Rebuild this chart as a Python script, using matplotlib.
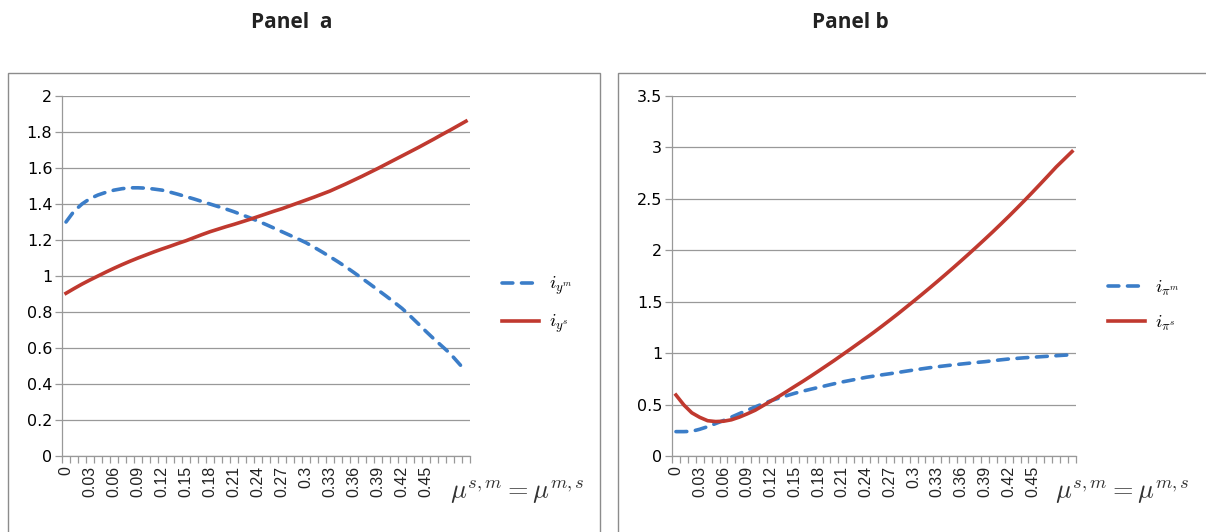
#!/usr/bin/env python3
import numpy as np
import matplotlib.pyplot as plt
from matplotlib.patches import Rectangle
plt.switch_backend('agg')
plt.rcParams['mathtext.fontset'] = 'cm'

# category axis: mu^{s,m} = mu^{m,s} from 0 to 0.50
mu = [round(0.01 * k, 2) for k in range(51)]

# Panel a
iy_m = [1.30, 1.36, 1.40, 1.43, 1.45, 1.465, 1.477, 1.485, 1.49, 1.49,
        1.488, 1.483, 1.477, 1.466, 1.454, 1.441, 1.428, 1.414, 1.400, 1.386,
        1.372, 1.357, 1.340, 1.323, 1.305, 1.286, 1.266, 1.246, 1.226, 1.206,
        1.185, 1.160, 1.134, 1.107, 1.079, 1.050, 1.019, 0.987, 0.955, 0.922,
        0.889, 0.855, 0.820, 0.779, 0.736, 0.692, 0.650, 0.610, 0.570, 0.52,
        0.47]
iy_s = [0.904, 0.93, 0.955, 0.978, 1.0, 1.022, 1.043, 1.063, 1.082, 1.10,
        1.117, 1.134, 1.15, 1.165, 1.181, 1.196, 1.213, 1.23, 1.246, 1.26,
        1.274, 1.287, 1.301, 1.315, 1.33, 1.345, 1.36, 1.374, 1.39, 1.406,
        1.422, 1.438, 1.455, 1.472, 1.492, 1.512, 1.533, 1.554, 1.576, 1.598,
        1.621, 1.644, 1.667, 1.69, 1.713, 1.737, 1.761, 1.786, 1.81, 1.835,
        1.86]

# Panel b
ipi_m = [0.237, 0.237, 0.24, 0.26, 0.285, 0.315, 0.345, 0.378, 0.412, 0.445,
         0.477, 0.508, 0.538, 0.563, 0.587, 0.61, 0.63, 0.649, 0.667, 0.685,
         0.703, 0.72, 0.735, 0.75, 0.765, 0.777, 0.789, 0.80, 0.812, 0.824,
         0.836, 0.847, 0.858, 0.868, 0.877, 0.886, 0.894, 0.902, 0.91, 0.917,
         0.926, 0.935, 0.943, 0.949, 0.955, 0.96, 0.965, 0.97, 0.975, 0.98,
         0.985]
ipi_s = [0.593, 0.496, 0.42, 0.376, 0.343, 0.335, 0.338, 0.352, 0.378, 0.41,
         0.445, 0.49, 0.535, 0.58, 0.628, 0.677, 0.725, 0.775, 0.826, 0.878,
         0.93, 0.984, 1.038, 1.093, 1.148, 1.204, 1.262, 1.321, 1.381, 1.443,
         1.505, 1.568, 1.632, 1.697, 1.763, 1.83, 1.898, 1.967, 2.037, 2.108,
         2.18, 2.254, 2.329, 2.406, 2.484, 2.564, 2.645, 2.727, 2.81, 2.885,
         2.96]

# labels shown on the category axis (the rest is hidden by the axis title)
shown_labels = [0, 0.03, 0.06, 0.09, 0.12, 0.15, 0.18, 0.21, 0.24, 0.27,
                0.3, 0.33, 0.36, 0.39, 0.42, 0.45]

BLUE = '#3B7DC8'
RED = '#C0392F'
GRID = '#999999'

W, H = 1206, 532
fig = plt.figure(figsize=(W / 100, H / 100), dpi=100)


def panel(x0, x1, frame_x0, frame_x1, title, title_x, s_m, s_s, ymax, ystep,
          lab_m, lab_s):
    # outer chart frame
    fig.patches.append(Rectangle((frame_x0 / W, -0.05), (frame_x1 - frame_x0) / W,
                                 1.05 - 73 / H, transform=fig.transFigure,
                                 fill=False, edgecolor='#8C8C8C', lw=1.0))
    fig.text(title_x / W, 1 - 23 / H, title, ha='center', va='center',
             fontsize=15, fontweight='bold', family='Open Sans', color='#222222')

    ax = fig.add_axes([x0 / W, 1 - 456 / H, (x1 - x0) / W, 360 / H])
    idx = np.arange(len(mu))
    ax.plot(idx, s_m, color=BLUE, lw=2.6, dashes=(3.0, 2.4), label=lab_m,
            dash_capstyle='round')
    ax.plot(idx, s_s, color=RED, lw=2.6, label=lab_s)

    ax.set_xlim(-0.5, len(mu) - 0.5)
    ax.set_ylim(0, ymax)
    yt = np.arange(0, ymax + 1e-9, ystep)
    ax.set_yticks(yt)
    ax.set_yticklabels(['%g' % v for v in yt], fontsize=11.5,
                       family='Liberation Sans Narrow')
    ax.yaxis.grid(True, color=GRID, lw=0.9)
    ax.set_axisbelow(True)

    lab_idx = [mu.index(v) for v in shown_labels]
    ax.set_xticks(lab_idx)
    ax.set_xticklabels(['%g' % v for v in shown_labels], rotation=90,
                       fontsize=11.5, family='Liberation Sans', color='#222222')
    ax.set_xticks(np.arange(-0.5, len(mu)), minor=True)
    ax.tick_params(axis='x', which='major', length=0, pad=7)
    ax.tick_params(axis='x', which='minor', length=5, color=GRID, width=0.9)
    ax.tick_params(axis='y', length=5, color=GRID, width=0.9, pad=2)

    for sp in ['top', 'right']:
        ax.spines[sp].set_visible(False)
    for sp in ['left', 'bottom']:
        ax.spines[sp].set_color(GRID)
        ax.spines[sp].set_linewidth(0.9)

    ax.legend(loc='center left', bbox_to_anchor=(1.06, 0.42), frameon=False,
              fontsize=13.5, handlelength=2.0, handletextpad=0.5,
              labelspacing=0.8, borderaxespad=0)

    # axis title sitting at the end of the category labels
    ax.text(1.115, -0.1, r'$\mu^{s,m} = \mu^{m,s}$', transform=ax.transAxes,
            ha='center', va='center', fontsize=19, color='#333333')
    return ax


panel(62, 470, 8, 600, 'Panel  a', 292, iy_m, iy_s, 2.0, 0.2,
      r'$i_{y^m}$', r'$i_{y^s}$')
panel(672, 1076, 618, 1210, 'Panel b', 850, ipi_m, ipi_s, 3.5, 0.5,
      r'$i_{\pi^m}$', r'$i_{\pi^s}$')

fig.savefig('out.png', dpi=100)
